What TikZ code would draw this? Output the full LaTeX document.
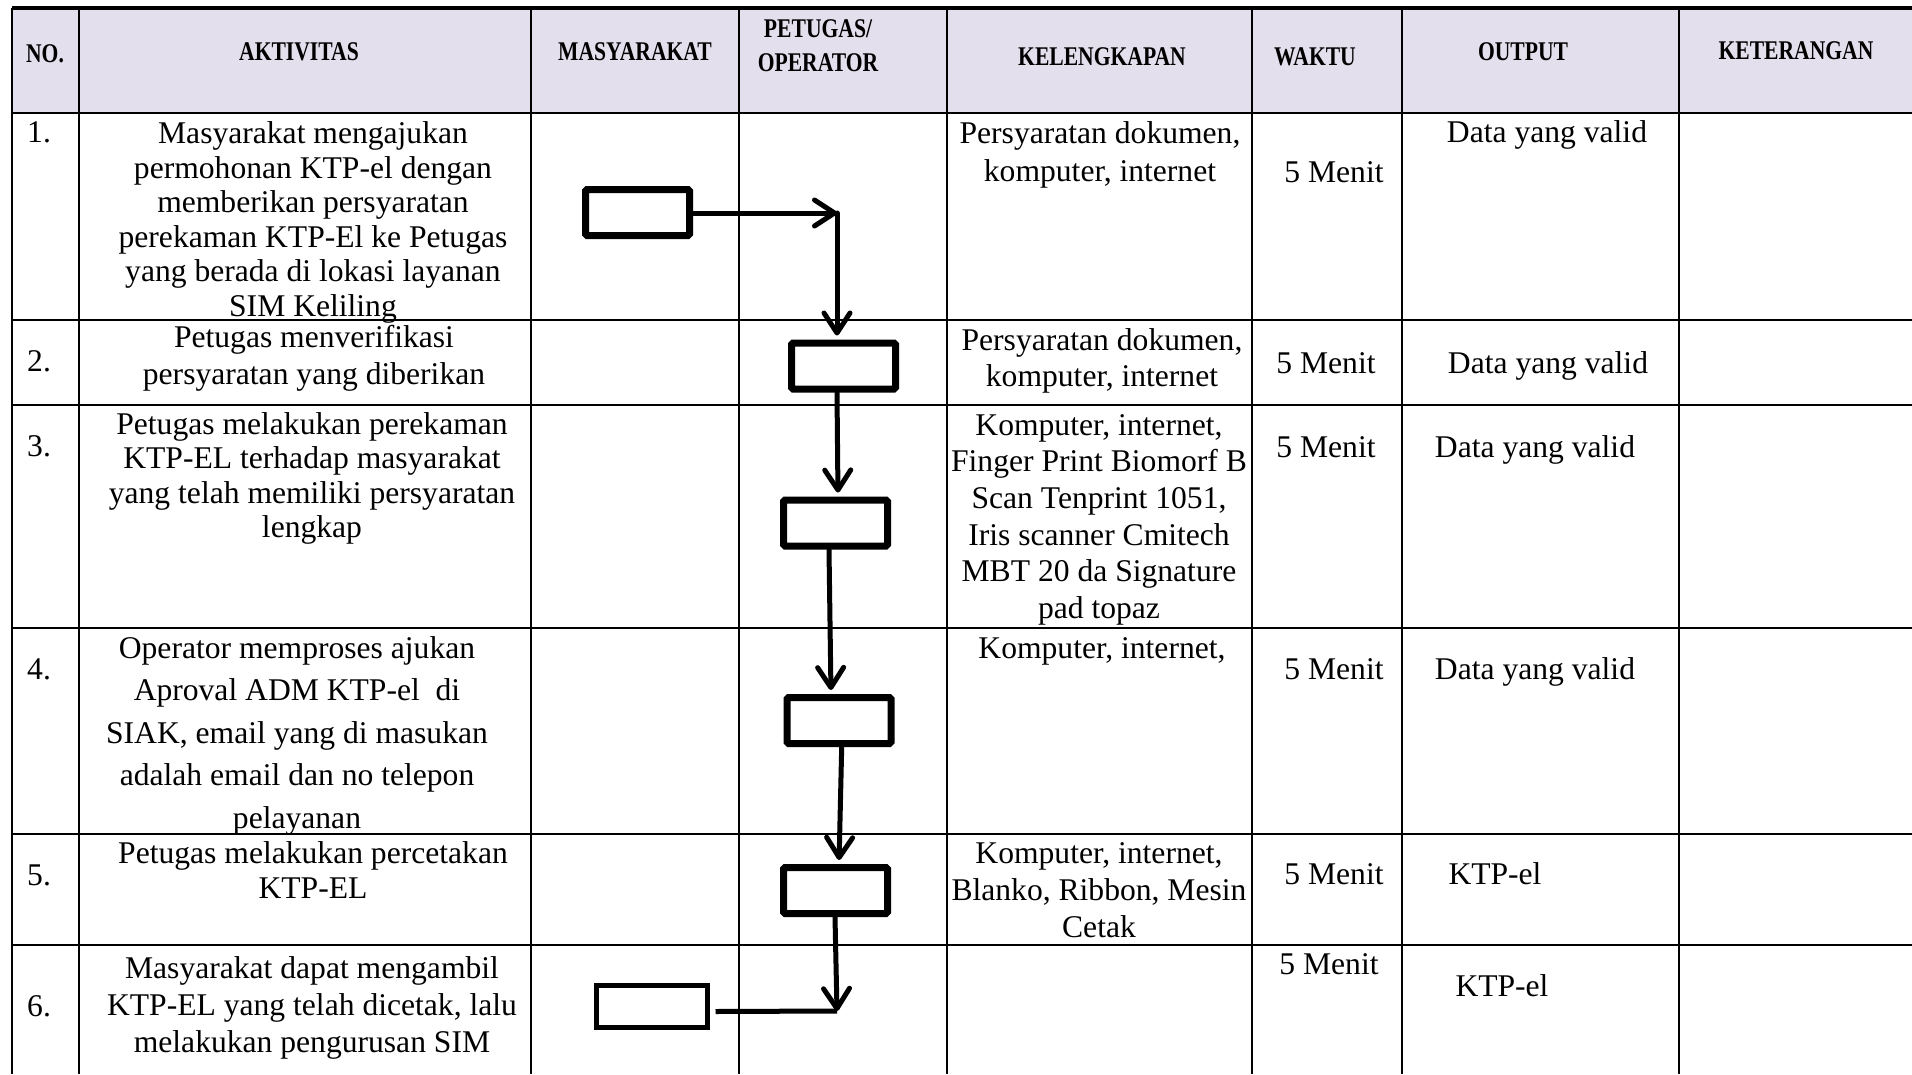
\documentclass[tikz,border=0pt]{standalone}
\usepackage{fontspec}
\setmainfont{Liberation Serif}
\newfontfamily\hdrfont[FakeStretch=0.8]{Liberation Serif Bold}
\usetikzlibrary{arrows.meta}
\definecolor{hdrfill}{RGB}{228,223,236}
\begin{document}
\begin{tikzpicture}[x=1pt,y=-1pt,
  grid/.style={line width=2.5pt},
  hdr/.style={font=\hdrfont\fontsize{27}{34}\selectfont, inner sep=0, anchor=center, align=center},
  txt/.style={font=\fontsize{31.6}{36.7}\selectfont, inner sep=0, anchor=base, align=center},
  num/.style={font=\fontsize{31.6}{36.7}\selectfont, inner sep=0, anchor=base west},
  flowbox/.style={draw, line width=7pt, rounded corners=1.5pt, minimum width=104pt, minimum height=46pt, inner sep=0},
  conn/.style={line width=5pt, line cap=round, -{Straight Barb[length=20pt,width=26pt,round]}},
  tobox/.style={shorten >=4pt},
]
\useasboundingbox (0,0) rectangle (1912,1074);
% header background
\fill[hdrfill] (12,8) rectangle (1912,113);
% grid
\draw[line width=3.5pt] (12,8) -- (1912,8);
\foreach \yy in {113,320,405,628,834,945}
  \draw[grid] (12,\yy) -- (1912,\yy);
\foreach \xx in {12,79,531,739,947,1252,1402,1679}
  \draw[grid] (\xx,8) -- (\xx,1074);

% header texts
\node[hdr] (hno) at (45,54) {NO.};
\node[hdr] (hakt) at (299,52) {AKTIVITAS};
\node[hdr] (hmas) at (635,52) {MASYARAKAT};
\node[hdr] (hpet1) at (818,29) {PETUGAS/};
\node[hdr] (hpet2) at (818,63) {OPERATOR};
\node[hdr] (hkel) at (1102,57) {KELENGKAPAN};
\node[hdr] (hwak) at (1315,57) {WAKTU};
\node[hdr] (hout) at (1523,52) {OUTPUT};
\node[hdr] (hket) at (1796,51) {KETERANGAN};

% numbers
\node[num] (n1) at (27,142) {1.};
\node[num] (n2) at (27,371) {2.};
\node[num] (n3) at (27,456) {3.};
\node[num] (n4) at (27,679) {4.};
\node[num] (n5) at (27,885) {5.};
\node[num] (n6) at (27,1016) {6.};

% aktivitas (anchor=base is the last line's baseline)
\node[txt, font=\fontsize{31.6}{34.5}\selectfont] (a1) at (313,316) {Masyarakat mengajukan\\permohonan KTP-el dengan\\memberikan persyaratan\\perekaman KTP-El ke Petugas\\yang berada di lokasi layanan\\SIM Keliling};
\node[txt, font=\fontsize{31.6}{37}\selectfont] (a2) at (314,384) {Petugas menverifikasi\\persyaratan yang diberikan};
\node[txt, font=\fontsize{31.6}{34.5}\selectfont] (a3) at (312,537.5) {Petugas melakukan perekaman\\KTP-EL terhadap masyarakat\\yang telah memiliki persyaratan\\lengkap};
\node[txt, font=\fontsize{31.6}{42.5}\selectfont] (a4) at (297,828) {Operator memproses ajukan\\Aproval ADM KTP-el \ di\\SIAK, email yang di masukan\\adalah email dan no telepon\\pelayanan};
\node[txt, font=\fontsize{31.6}{34.5}\selectfont] (a5) at (313,898) {Petugas melakukan percetakan\\KTP-EL};
\node[txt, font=\fontsize{31.6}{37}\selectfont] (a6) at (312,1052) {Masyarakat dapat mengambil\\KTP-EL yang telah dicetak, lalu\\melakukan pengurusan SIM};

% kelengkapan
\node[txt, font=\fontsize{31.6}{38.5}\selectfont] (k1) at (1100,181.5) {Persyaratan dokumen,\\komputer, internet};
\node[txt] (k2) at (1102,386.7) {Persyaratan dokumen,\\komputer, internet};
\node[txt] (k3) at (1099,618.5) {Komputer, internet,\\Finger Print Biomorf B\\Scan Tenprint 1051,\\Iris scanner Cmitech\\MBT 20 da Signature\\pad topaz};
\node[txt] (k4) at (1102,658) {Komputer, internet,};
\node[txt] (k5) at (1099,937) {Komputer, internet,\\Blanko, Ribbon, Mesin\\Cetak};

% waktu
\node[txt] (w1) at (1334,182) {5 Menit};
\node[txt] (w2) at (1326,373) {5 Menit};
\node[txt] (w3) at (1326,457) {5 Menit};
\node[txt] (w4) at (1334,679) {5 Menit};
\node[txt] (w5) at (1334,884) {5 Menit};
\node[txt] (w6) at (1329,974) {5 Menit};

% output
\node[txt] (o1) at (1547,142) {Data yang valid};
\node[txt] (o2) at (1548,373) {Data yang valid};
\node[txt] (o3) at (1535,457) {Data yang valid};
\node[txt] (o4) at (1535,679) {Data yang valid};
\node[txt] (o5) at (1495,884) {KTP-el};
\node[txt] (o6) at (1502,996) {KTP-el};

% flow boxes
\node[flowbox] (b1) at (637.5,212.5) {};
\node[flowbox] (b2) at (843.5,366) {};
\node[flowbox] (b3) at (835.5,523) {};
\node[flowbox] (b4) at (839,720.5) {};
\node[flowbox] (b5) at (835.5,890.5) {};
\node[flowbox, line width=5pt, rounded corners=0pt, minimum width=111pt, minimum height=42pt] (b6) at (652,1006.5) {};
\coordinate (c1) at (837,213);
\coordinate (c2) at (837,1011);

% connectors
\draw[conn] (b1.east |- c1) -- (c1);
\draw[conn, tobox] (c1) -- (c1 |- b2.north);
\draw[conn, tobox] ([xshift=-6.5pt]b2.south) -- ([xshift=2.5pt]b3.north);
\draw[conn, tobox] ([xshift=-6.5pt]b3.south) -- ([xshift=-8pt]b4.north);
\draw[conn, tobox] ([xshift=2.7pt]b4.south) -- ([xshift=3.5pt]b5.north);
\draw[conn] ([xshift=-0.5pt]b5.south) -- (c2);
\draw[line width=5pt] ([xshift=5.5pt,yshift=-5pt]b6.east) -- (c2);
\end{tikzpicture}
\end{document}
